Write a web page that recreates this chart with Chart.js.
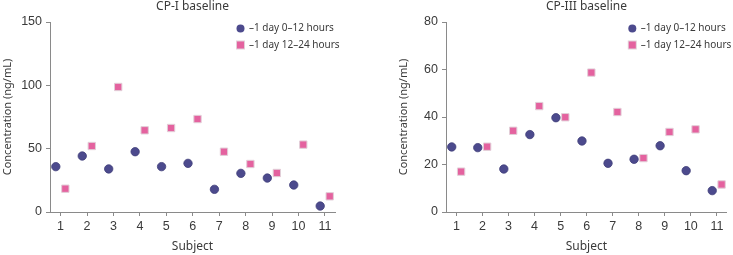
<!DOCTYPE html>
<html>
<head>
<meta charset="utf-8">
<script src="https://cdn.jsdelivr.net/npm/chart.js@4.4.0/dist/chart.umd.min.js"></script>
<style>
  html, body { margin: 0; padding: 0; background: #fff; }
  .wrap { display: flex; width: 733px; height: 255px; }
  .box1 { width: 366px; height: 255px; position: relative; }
  .box2 { width: 367px; height: 255px; position: relative; }
</style>
</head>
<body>
<div class="wrap">
  <div class="box1"><canvas id="cp1"></canvas></div>
  <div class="box2"><canvas id="cp3"></canvas></div>
</div>
<script>
// subjects on the x axis
const subjects = [1, 2, 3, 4, 5, 6, 7, 8, 9, 10, 11]
const seriesNames = ['\u20131 day 0\u201312 hours', '\u20131 day 12\u201324 hours']

// CP-I baseline (ng/mL)
const cp1Early = [35.8, 44.2, 34.0, 47.6, 35.8, 38.4, 17.9, 30.5, 26.8, 21.3, 4.7]
const cp1Late  = [18.4, 52.1, 98.7, 64.5, 66.3, 73.4, 47.6, 37.9, 30.8, 53.2, 12.4]

// CP-III baseline (ng/mL)
const cp3Early = [27.4, 27.1, 18.1, 32.6, 39.7, 29.9, 20.5, 22.2, 27.9, 17.4, 9.0]
const cp3Late  = [17.0, 27.5, 34.2, 44.6, 39.9, 58.7, 42.1, 22.7, 33.7, 34.8, 11.6]

const cp1Ticks = [0, 50, 100, 150]
const cp3Ticks = [0, 20, 40, 60, 80]

const circleColor = '#4c4a8d'
const squareColor = '#e4629f'
const axisColor = '#8a8a8a'
const textColor = '#3a3a3a'

function pts(vals, shift) {
  return vals.map((v, i) => ({ x: subjects[i] + shift, y: v }))
}

// title + legend drawn on top of the chart area
const decor = {
  id: 'decor',
  afterDraw(chart, args, opts) {
    const ctx = chart.ctx
    const a = chart.chartArea
    ctx.save()
    ctx.fillStyle = textColor
    ctx.font = '12px "Noto Sans"'
    ctx.textAlign = 'center'
    ctx.textBaseline = 'middle'
    ctx.fillText(opts.title, (a.left + a.right) / 2, 7)

    const lx = a.right - 94.5
    ctx.textAlign = 'left'
    ctx.font = '10px "Noto Sans"'
    // circle
    ctx.beginPath()
    ctx.arc(lx, 28.5, 4, 0, Math.PI * 2)
    ctx.fillStyle = circleColor
    ctx.fill()
    ctx.fillStyle = textColor
    ctx.fillText(seriesNames[0], lx + 8.5, 28.5)
    // square
    ctx.fillStyle = '#e2cfd8'
    ctx.fillRect(lx - 4.5, 40.5, 9, 9)
    ctx.fillStyle = squareColor
    ctx.fillRect(lx - 3.5, 41.5, 7, 7)
    ctx.fillStyle = textColor
    ctx.fillText(seriesNames[1], lx + 8.5, 45)
    ctx.restore()
  }
}

function makeChart(id, title, early, late, yTicks, padLeft, padRight) {
  return new Chart(document.getElementById(id), {
    type: 'scatter',
    data: {
      datasets: [{
        label: seriesNames[0],
        data: pts(early, -0.18),
        pointStyle: 'circle',
        pointRadius: 4.2,
        pointHoverRadius: 4.2,
        backgroundColor: circleColor,
        borderColor: '#3f3d78',
        borderWidth: 0.8,
      }, {
        label: seriesNames[1],
        data: pts(late, 0.18),
        pointStyle: 'rect',
        pointRadius: 5.2,
        pointHoverRadius: 5.2,
        backgroundColor: squareColor,
        borderColor: '#e2cfd8',
        borderWidth: 1,
      }]
    },
    options: {
      responsive: true,
      maintainAspectRatio: false,
      animation: false,
      layout: { padding: { top: 22, left: padLeft, right: padRight, bottom: 0 } },
      plugins: {
        legend: { display: false },
        tooltip: { enabled: false },
        decor: { title: title }
      },
      scales: {
        x: {
          type: 'linear',
          min: 0.6,
          max: 11.38,
          afterBuildTicks: s => { s.ticks = subjects.map(v => ({ value: v })) },
          afterFit: s => { s.height = 43 },
          grid: { drawOnChartArea: false, tickLength: 4, color: axisColor },
          border: { color: axisColor, width: 1 },
          ticks: { color: textColor, padding: 3, maxRotation: 0, font: { family: 'Liberation Sans', size: 12.5 } },
          title: { display: true, text: 'Subject', color: textColor, padding: { top: 0, bottom: 1 }, font: { family: 'Noto Sans', size: 12 } }
        },
        y: {
          min: 0,
          max: yTicks[yTicks.length - 1],
          afterBuildTicks: s => { s.ticks = yTicks.map(v => ({ value: v })) },
          afterFit: s => { s.width = 50 },
          grid: { drawOnChartArea: false, tickLength: 4, color: axisColor },
          border: { color: axisColor, width: 1 },
          ticks: { color: textColor, padding: 4, font: { family: 'Liberation Sans', size: 12.5 } },
          title: { display: true, text: 'Concentration (ng/mL)', color: textColor, padding: { top: 1, bottom: 0 }, font: { family: 'Noto Sans', size: 11 } }
        }
      }
    },
    plugins: [decor]
  })
}

makeChart('cp1', 'CP-I baseline', cp1Early, cp1Late, cp1Ticks, 0, 31)
makeChart('cp3', 'CP-III baseline', cp3Early, cp3Late, cp3Ticks, 30, 0)
</script>
</body>
</html>
